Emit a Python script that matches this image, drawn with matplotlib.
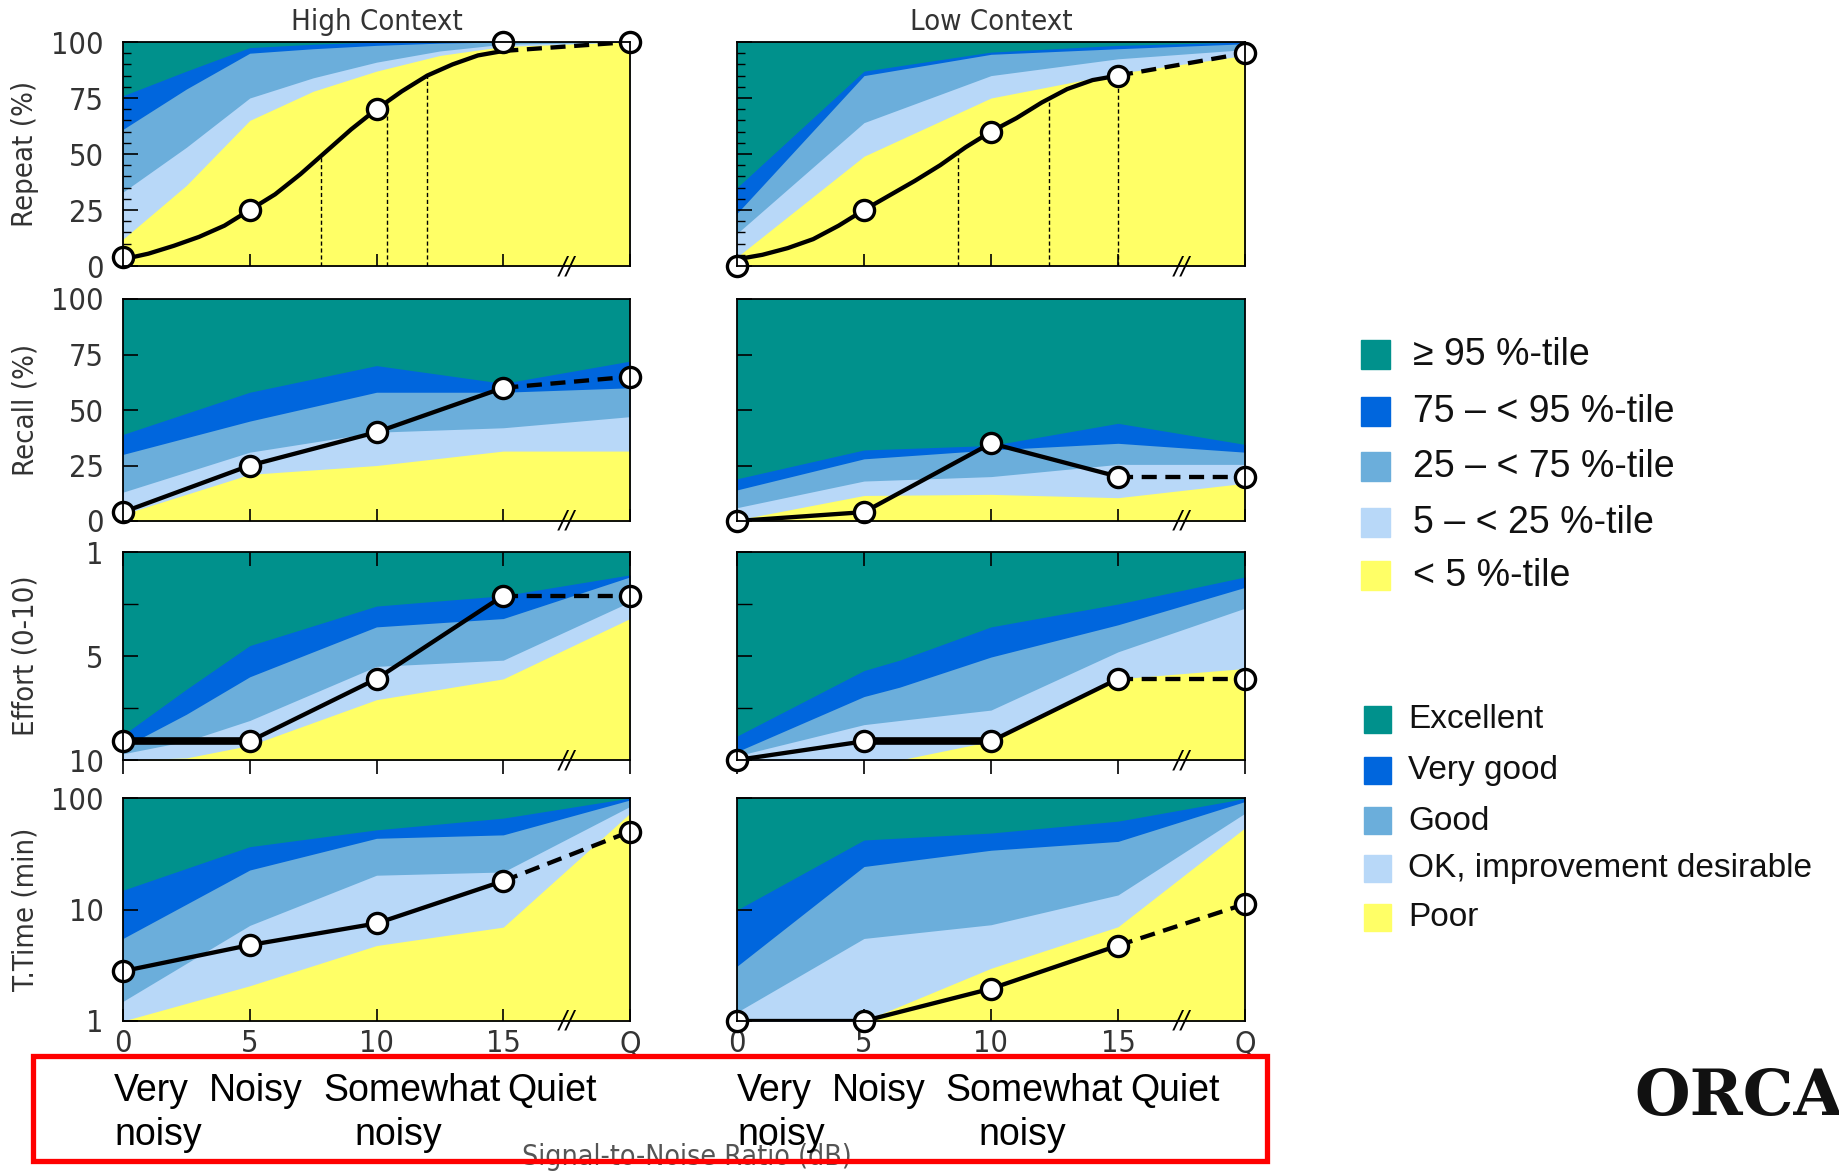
import matplotlib
matplotlib.use("Agg")
import matplotlib.pyplot as plt
import matplotlib.transforms as mtransforms
from matplotlib.patches import Rectangle
import numpy as np

# ---------------- data ----------------
snr_x = [0, 5, 10, 15, 20]
snr_labels = ["0", "5", "10", "15", "Q"]

# Repeat (%), high context
repeat_hi_bx = [0, 2.5, 5, 7.5, 10, 12.5, 15, 20]
repeat_hi_p5 = [12, 36, 65, 78, 87, 94, 98, 100]
repeat_hi_p25 = [33, 53, 75, 84, 91, 96, 99, 100]
repeat_hi_p75 = [61, 79, 95, 97, 98.5, 99.5, 100, 100]
repeat_hi_p95 = [76, 87, 97.5, 99, 100, 100, 100, 100]
repeat_hi_marks = [4, 25, 70, 100, 100]
repeat_hi_cx = [0, 1, 2, 3, 4, 5, 6, 7, 8, 9, 10, 11, 12, 13, 14, 15]
repeat_hi_cy = [3, 5.5, 9, 13, 18, 25, 32, 41, 51, 61, 70, 78, 85, 90, 94, 96]
repeat_hi_srt_x = [7.8, 10.4, 12.0]
repeat_hi_srt_y = [49, 73, 85]

# Repeat (%), low context
repeat_lo_bx = [0, 5, 10, 15, 20]
repeat_lo_p5 = [4, 49, 75, 86, 94]
repeat_lo_p25 = [14.5, 64, 85, 92.5, 96.6]
repeat_lo_p75 = [23.5, 85, 94.5, 97, 99.2]
repeat_lo_p95 = [35, 87, 95.5, 98.5, 100]
repeat_lo_marks = [0, 25, 60, 85, 95]
repeat_lo_cx = [0, 1, 2, 3, 4, 5, 6, 7, 8, 9, 10, 11, 12, 13, 14, 15]
repeat_lo_cy = [3, 5, 8, 12, 18, 25, 31.5, 38, 45, 53, 60, 66, 73, 79, 83, 85]
repeat_lo_srt_x = [8.7, 12.3, 15.0]
repeat_lo_srt_y = [51, 75, 85]

# Recall (%)
recall_hi_bx = [0, 5, 10, 15, 20]
recall_hi_p5 = [3, 21, 25, 31.5, 31.5]
recall_hi_p25 = [13, 31, 40, 42, 47]
recall_hi_p75 = [30, 45, 58, 58, 60]
recall_hi_p95 = [39, 58, 70, 62, 72]
recall_hi_marks = [4, 25, 40, 60, 65]

recall_lo_bx = [0, 5, 10, 15, 20]
recall_lo_p5 = [0.5, 11.5, 12, 10.5, 17]
recall_lo_p25 = [6, 18, 20, 25.5, 25.5]
recall_lo_p75 = [14, 28, 32, 35, 31]
recall_lo_p95 = [19, 32, 34, 44, 34.5]
recall_lo_marks = [0, 4, 35, 20, 20]

# Effort (0-10), axis runs downwards
effort_hi_bx = [0, 2.5, 5, 10, 15, 20]
effort_hi_p5 = [10, 9.9, 9.3, 7.1, 6.1, 3.2]
effort_hi_p25 = [9.7, 9.1, 8.1, 5.5, 5.2, 2.4]
effort_hi_p75 = [9.4, 7.8, 6.0, 3.6, 3.2, 1.2]
effort_hi_p95 = [8.8, 6.6, 4.5, 2.6, 2.1, 1.1]
effort_hi_marks = [9.1, 9.1, 6.1, 2.1, 2.1]

effort_lo_bx = [0, 5, 6.4, 10, 15, 20]
effort_lo_p5 = [10, 10, 10, 9.1, 6.1, 5.6]
effort_lo_p25 = [9.8, 8.3, 8.1, 7.6, 4.8, 2.7]
effort_lo_p75 = [9.6, 6.95, 6.5, 5.05, 3.5, 1.7]
effort_lo_p95 = [8.85, 5.7, 5.2, 3.6, 2.5, 1.2]
effort_lo_marks = [10, 9.1, 9.1, 6.1, 6.1]

# T.Time (min), log axis
ttime_hi_bx = [0, 5, 10, 15, 20]
ttime_hi_p5 = [1, 2.07, 4.75, 6.95, 73]
ttime_hi_p25 = [1.5, 7.2, 20.3, 21.7, 84]
ttime_hi_p75 = [5.5, 22.6, 43.5, 46.7, 96]
ttime_hi_p95 = [14.9, 36.6, 51.8, 66, 100]
ttime_hi_marks = [2.8, 4.8, 7.5, 18, 50]

ttime_lo_bx = [0, 5, 10, 15, 20]
ttime_lo_p5 = [1, 1, 2.97, 7.0, 54]
ttime_lo_p25 = [1.2, 5.5, 7.3, 13.5, 73]
ttime_lo_p75 = [3.1, 24.3, 34, 40.8, 93]
ttime_lo_p95 = [9.9, 42, 48.5, 62, 99]
ttime_lo_marks = [1, 1, 1.95, 4.75, 11.2]

col_titles = ["High Context", "Low Context"]
row_labels = ["Repeat (%)", "Recall (%)", "Effort (0-10)", "T.Time (min)"]
pct_labels = ["\u2265 95 %-tile", "75 \u2013 < 95 %-tile", "25 \u2013 < 75 %-tile",
              "5 \u2013 < 25 %-tile", "< 5 %-tile"]
rating_labels = ["Excellent", "Very good", "Good", "OK, improvement desirable", "Poor"]
cat_line1 = ["Very", "Noisy", "Somewhat", "Quiet"]
cat_line2 = ["noisy", "noisy"]

# colours top -> bottom: >=95, 75-95, 25-75, 5-25, <5
band_colors = ["#00918C", "#0066DD", "#6BAEDB", "#B8D8F8", "#FFFF66"]

# ---------------- layout ----------------
W, H = 1839, 1173
def fx(x): return x / W
def fy(y): return 1 - y / H

NARROW = dict(family=["Liberation Sans Narrow", "DejaVu Sans"], stretch="condensed")
ARIAL = ["Liberation Sans", "DejaVu Sans"]
GREY = "#333333"

fig = plt.figure(figsize=(W / 100, H / 100), dpi=100)

cols = [(123, 630), (737, 1245)]
rows = [(42, 266), (299, 521), (552, 760), (798, 1021)]

panels = [
    [dict(bx=repeat_hi_bx, bands=[repeat_hi_p5, repeat_hi_p25, repeat_hi_p75, repeat_hi_p95],
          marks=repeat_hi_marks, curve=(repeat_hi_cx, repeat_hi_cy), srt=(repeat_hi_srt_x, repeat_hi_srt_y)),
     dict(bx=repeat_lo_bx, bands=[repeat_lo_p5, repeat_lo_p25, repeat_lo_p75, repeat_lo_p95],
          marks=repeat_lo_marks, curve=(repeat_lo_cx, repeat_lo_cy), srt=(repeat_lo_srt_x, repeat_lo_srt_y))],
    [dict(bx=recall_hi_bx, bands=[recall_hi_p5, recall_hi_p25, recall_hi_p75, recall_hi_p95],
          marks=recall_hi_marks),
     dict(bx=recall_lo_bx, bands=[recall_lo_p5, recall_lo_p25, recall_lo_p75, recall_lo_p95],
          marks=recall_lo_marks)],
    [dict(bx=effort_hi_bx, bands=[effort_hi_p5, effort_hi_p25, effort_hi_p75, effort_hi_p95],
          marks=effort_hi_marks, thick=0),
     dict(bx=effort_lo_bx, bands=[effort_lo_p5, effort_lo_p25, effort_lo_p75, effort_lo_p95],
          marks=effort_lo_marks, thick=1)],
    [dict(bx=ttime_hi_bx, bands=[ttime_hi_p5, ttime_hi_p25, ttime_hi_p75, ttime_hi_p95],
          marks=ttime_hi_marks),
     dict(bx=ttime_lo_bx, bands=[ttime_lo_p5, ttime_lo_p25, ttime_lo_p75, ttime_lo_p95],
          marks=ttime_lo_marks)],
]

row_lims = [(0, 100), (0, 100), (10, 0), (1, 100)]
LW = 3.1

for r, (top, bot) in enumerate(rows):
    for c, (left, right) in enumerate(cols):
        ax = fig.add_axes([fx(left), fy(bot), (right - left) / W, (bot - top) / H])
        p = panels[r][c]
        lo, hi = row_lims[r]
        if r == 3:
            ax.set_yscale("log")
        bx = np.array(p["bx"], dtype=float)

        # painter's order: teal everywhere, then lower bands on top
        ax.fill_between(bx, lo, hi, color=band_colors[0], lw=0, zorder=1)
        for k, (band, col) in enumerate(zip(p["bands"][::-1], band_colors[1:])):
            ax.fill_between(bx, lo, band, color=col, lw=0, zorder=1 + k * 0.01)

        marks = p["marks"]
        if "curve" in p:
            cx, cy = p["curve"]
            ax.plot(cx, cy, color="k", lw=LW, zorder=4, solid_capstyle="round")
            ax.plot([cx[-1], snr_x[-1]], [cy[-1], marks[-1]], color="k", lw=LW,
                    dashes=(3.5, 2), zorder=4)
            sx, sy = p["srt"]
            ax.vlines(sx, lo, sy, colors="k", lw=1.0, linestyles=(0, (3, 2)), zorder=3)
        else:
            ax.plot(snr_x[:4], marks[:4], color="k", lw=LW, zorder=4)
            ax.plot(snr_x[3:], marks[3:], color="k", lw=LW, dashes=(3.5, 2), zorder=4)
        if "thick" in p:
            i = p["thick"]
            ax.plot(snr_x[i:i + 2], marks[i:i + 2], color="k", lw=5.5, zorder=4)
        ax.plot(snr_x, marks, "o", ms=14.5, mfc="white", mec="k", mew=2.4,
                clip_on=False, zorder=6)

        ax.set_xlim(0, 20)
        ax.set_ylim(lo, hi)

        # y ticks
        if r in (0, 1):
            ax.set_yticks([0, 25, 50, 75, 100])
            ax.set_yticklabels(["0", "25", "50", "75", "100"])
            if r == 0:
                ax.set_yticks(np.arange(0, 101, 5), minor=True)
        elif r == 2:
            ax.set_yticks([0, 5, 10])
            ax.set_yticklabels(["1", "5", "10"])
            ax.set_yticks([2.5, 7.5], minor=True)
        else:
            ax.set_yticks([1, 10, 100])
            ax.set_yticklabels(["1", "10", "100"])
            ax.yaxis.set_minor_locator(plt.NullLocator())
        ax.tick_params(axis="y", which="major", direction="in", length=11, width=1.2,
                       pad=14, labelsize=22, labelcolor=GREY, labelleft=(c == 0))
        ax.tick_params(axis="y", which="minor", direction="in",
                       length=11 if r == 2 else 6, width=1.0)
        for lab in ax.get_yticklabels():
            lab.set(**NARROW)

        # x ticks
        ax.set_xticks(snr_x)
        if r == 2:
            ax.tick_params(axis="x", direction="out", length=10, width=1.2, top=True,
                           labelbottom=False)
            for t in ax.xaxis.get_major_ticks():
                t.tick2line.set_marker(3)  # top ticks pointing down
                t.tick2line.set_markersize(10)
        else:
            ax.tick_params(axis="x", direction="in", length=9, width=1.2,
                           labelbottom=(r == 3))
        if r == 3:
            ax.set_xticklabels(snr_labels)
            ax.tick_params(axis="x", labelsize=22, labelcolor=GREY, pad=6)
            for lab in ax.get_xticklabels():
                lab.set(**NARROW)

        for s in ax.spines.values():
            s.set_linewidth(1.3)
            s.set_zorder(7)

        # axis break mark
        trans = mtransforms.blended_transform_factory(ax.transData, ax.transAxes)
        ax.text(17.5, 0.0, "//", transform=trans, ha="center", va="center",
                fontsize=17, color="k", zorder=8, clip_on=False, style="italic")

        if r == 0:
            ax.set_title(col_titles[c], fontsize=21, color=GREY, pad=9, **NARROW)
        if c == 0:
            ax.set_ylabel(row_labels[r], fontsize=21, color=GREY, **NARROW)
            ax.yaxis.set_label_coords(-0.165, 0.5)

# ---------------- legends ----------------
leg1_y = [355, 412, 467, 523, 576]
for y, col, lab in zip(leg1_y, band_colors, pct_labels):
    fig.patches.append(Rectangle((fx(1361), fy(y + 14)), 29 / W, 29 / H, color=col,
                                 transform=fig.transFigure, figure=fig))
    fig.text(fx(1413), fy(y), lab, fontsize=27, va="center", ha="left",
             color="#111111", family=ARIAL)

leg2_y = [720, 771, 821, 869, 918]
for y, col, lab in zip(leg2_y, band_colors, rating_labels):
    fig.patches.append(Rectangle((fx(1364), fy(y + 13)), 27 / W, 27 / H, color=col,
                                 transform=fig.transFigure, figure=fig))
    fig.text(fx(1408), fy(y), lab, fontsize=24, va="center", ha="left",
             color="#111111", family=ARIAL)

# ---------------- bottom annotation ----------------
fig.text(fx(687), fy(1143), "Signal-to-Noise Ratio (dB)", fontsize=20.5, color="#555555",
         ha="center", va="top", **NARROW)

box = Rectangle((fx(33), fy(1161)), (1267 - 33) / W, (1161 - 1056) / H, fill=False,
                edgecolor="#FF0000", lw=3.8, transform=fig.transFigure, figure=fig, zorder=10)
fig.patches.append(box)

line1_x = [[114, 209, 323, 507], [737, 832, 945, 1130]]
line2_x = [[114, 354], [737, 978]]
for c in range(2):
    for x, w in zip(line1_x[c], cat_line1):
        fig.text(fx(x), fy(1091), w, fontsize=27, ha="left", va="center", family=ARIAL)
    for x, w in zip(line2_x[c], cat_line2):
        fig.text(fx(x), fy(1135), w, fontsize=27, ha="left", va="center", family=ARIAL)

fig.text(fx(1634), fy(1097), "ORCA", fontsize=46, fontweight="bold", ha="left",
         va="center", family="DejaVu Serif", color="#111111")

fig.savefig("out.png", dpi=100)
